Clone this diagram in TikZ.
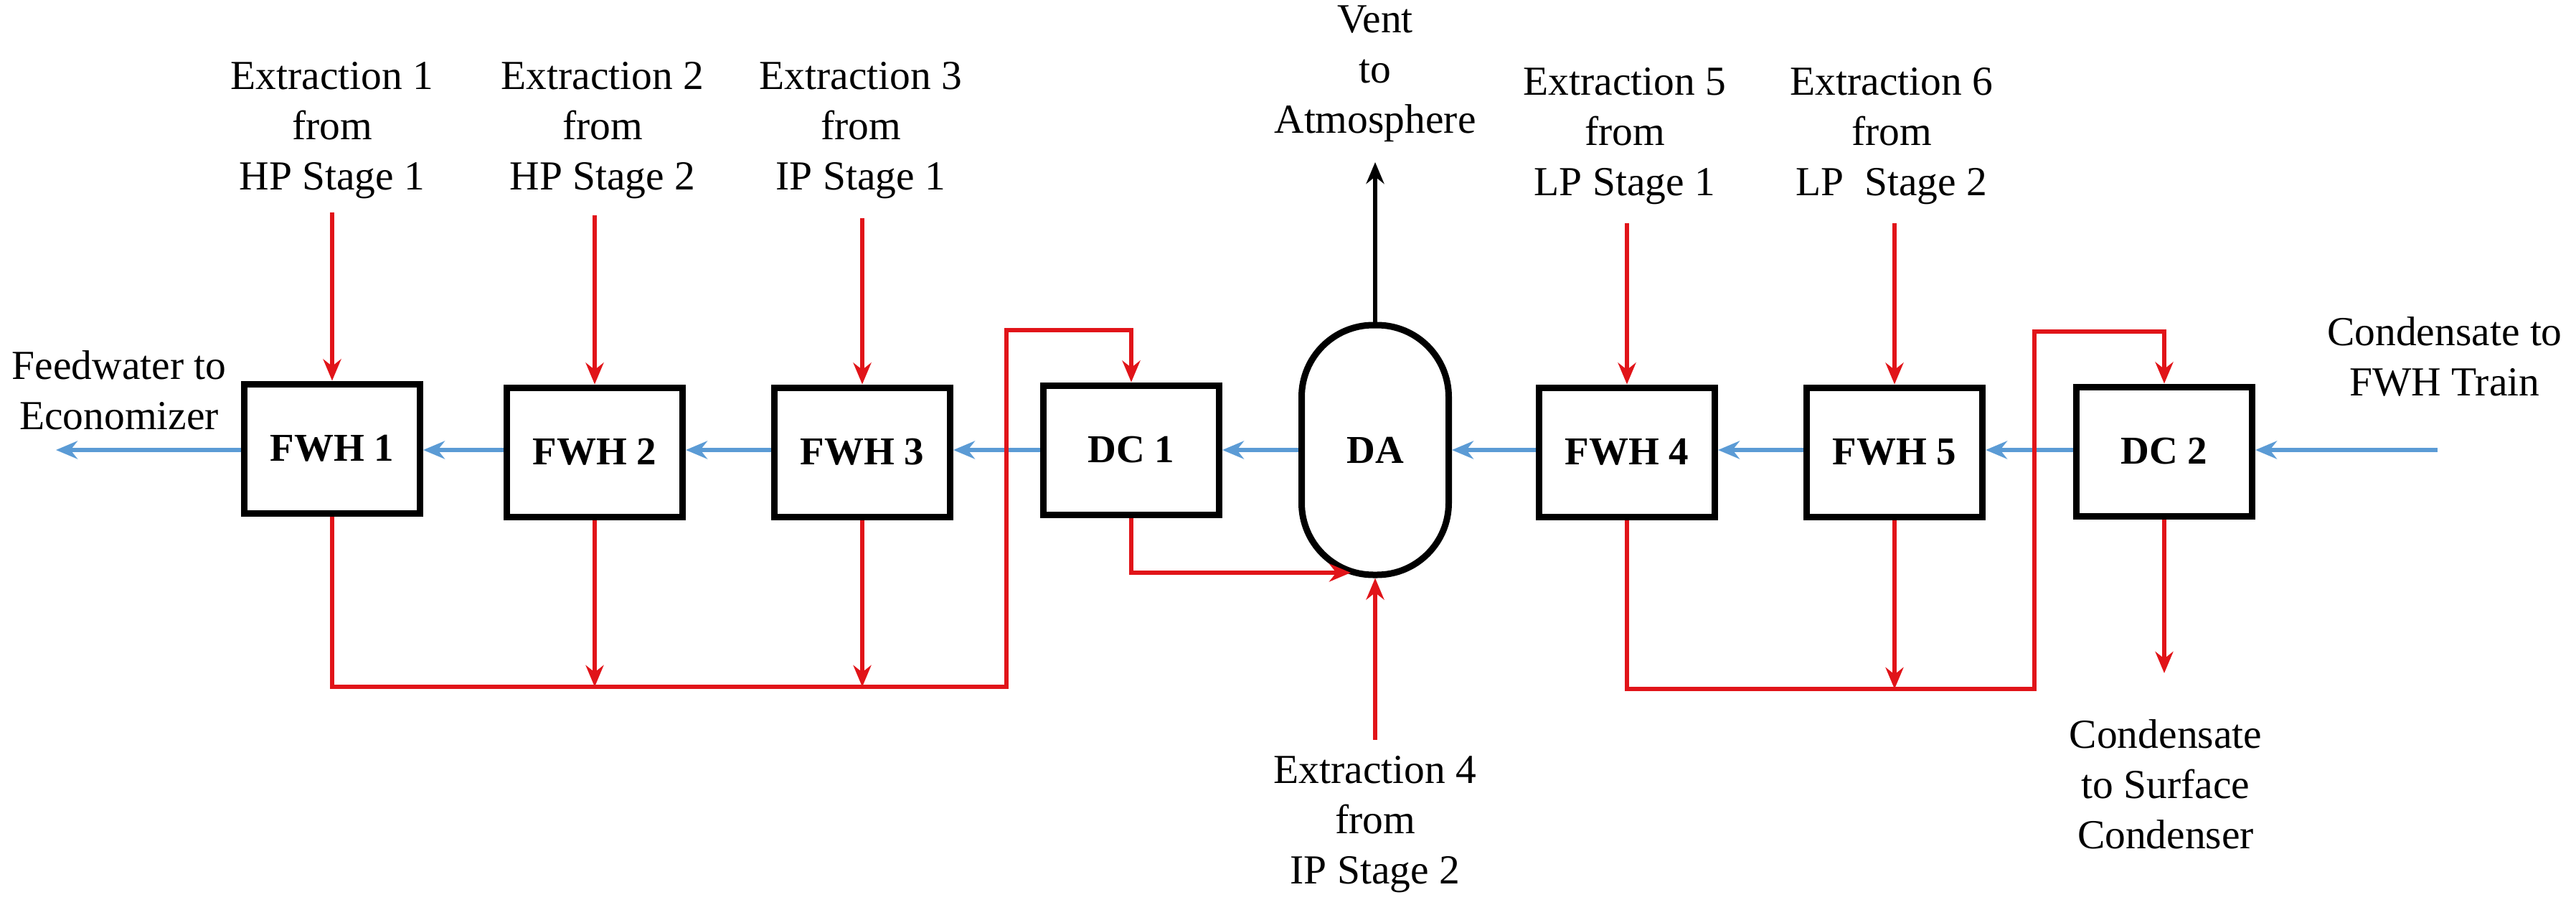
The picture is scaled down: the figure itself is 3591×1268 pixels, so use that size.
\documentclass[tikz,border=0pt]{standalone}
\usepackage{fontspec}
\setmainfont{Liberation Serif}
\usetikzlibrary{arrows.meta}
\definecolor{bl}{RGB}{91,155,213}
\definecolor{rd}{RGB}{225,20,25}
\begin{document}
\begin{tikzpicture}[x=0.2pt,y=-0.2pt,
  box/.style={draw,line width=1.8pt,minimum width=49pt,minimum height=36pt,font=\fontsize{11}{13}\selectfont\bfseries},
  txt/.style={align=center,font=\fontsize{11.5}{14}\selectfont},
  bf/.style={bl,line width=1.2pt,-{Stealth[length=6pt,width=5pt]}},
  rf/.style={rd,line width=1.2pt,-{Stealth[length=6pt,width=5pt]}},
  rl/.style={rd,line width=1.2pt}]
\useasboundingbox (0,0) rectangle (3591,1268);
\node[box] (F1) at (463,625) {FWH 1};
\node[box] (F2) at (829,630) {FWH 2};
\node[box] (F3) at (1202,630) {FWH 3};
\node[box] (D1) at (1577,627) {DC 1};
\node[draw,line width=1.8pt,minimum width=41pt,minimum height=69.6pt,rounded corners=20pt,font=\fontsize{11}{13}\selectfont\bfseries] (DA) at (1917,627) {DA};
\node[box] (F4) at (2268,630) {FWH 4};
\node[box] (F5) at (2641,630) {FWH 5};
\node[box] (D2) at (3017,629) {DC 2};
% texts
\node[txt] (e1) at (463,182) {Extraction 1\\from\\HP Stage 1};
\node[txt] (e2) at (840,182) {Extraction 2\\from\\HP Stage 2};
\node[txt] (e3) at (1200,182) {Extraction 3\\from\\IP Stage 1};
\node[txt] (e5) at (2265,190) {Extraction 5\\from\\LP Stage 1};
\node[txt] (e6) at (2637,190) {Extraction 6\\from\\LP~ Stage 2};
\node[txt] (vt) at (1917,103) {Vent\\to\\Atmosphere};
\node[txt] (e4) at (1917,1149) {Extraction 4\\from\\IP Stage 2};
\node[txt] (cs) at (3019,1093) {Condensate\\to Surface\\Condenser};
\node[txt] (ct) at (3408,497) {Condensate to\\FWH Train};
\node[txt] (fw) at (166,544) {Feedwater to\\Economizer};
% coordinates
\coordinate (in) at (3398,627);
\coordinate (out) at (78,627);
\coordinate (a1) at (463,296); \coordinate (a2) at (829,300); \coordinate (a3) at (1202,304);
\coordinate (a5) at (2268,311); \coordinate (a6) at (2641,311);
\coordinate (a4) at (1917,1031); \coordinate (vtop) at (1917,226);
% blue flow
\draw[bf] (in) -- (D2.east |- in);
\draw[bf] (D2.west |- in) -- (F5.east |- in);
\draw[bf] (F5.west |- in) -- (F4.east |- in);
\draw[bf] (F4.west |- in) -- (DA.east |- in);
\draw[bf] (DA.west |- in) -- (D1.east |- in);
\draw[bf] (D1.west |- in) -- (F3.east |- in);
\draw[bf] (F3.west |- in) -- (F2.east |- in);
\draw[bf] (F2.west |- in) -- (F1.east |- in);
\draw[bf] (F1.west |- in) -- (out);
% extractions
\draw[rf] (a1) -- (F1.north);
\draw[rf] (a2) -- (F2.north);
\draw[rf] (a3) -- (F3.north);
\draw[rf] (a5) -- (F4.north);
\draw[rf] (a6) -- (F5.north);
\draw[rf] (a4) -- (DA.south);
\draw[line width=1.2pt,-{Stealth[length=6pt,width=5pt]}] (DA.north) -- (vtop);
% drains left
\coordinate (r1) at (1403,460); \coordinate (r2) at (2836,462);
\draw[rf] (F1.south) -- (463,957) -- (r1 |- 0,957) -- (r1) -- (D1.north |- r1) -- (D1.north);
\draw[rf] (F2.south) -- (829,957);
\draw[rf] (F3.south) -- (1202,957);
\draw[rf] (D1.south) -- (1577,798) -- (1883,798);
% drains right
\draw[rf] (F4.south) -- (2268,960) -- (r2 |- 0,960) -- (r2) -- (D2.north |- r2) -- (D2.north);
\draw[rf] (F5.south) -- (2641,960);
\draw[rf] (D2.south) -- (3017,938);
\end{tikzpicture}
\end{document}
